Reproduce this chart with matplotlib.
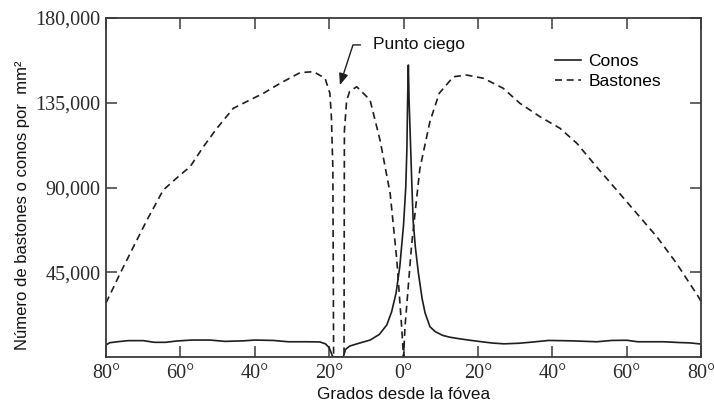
#!/usr/bin/env python3
"""Densidad de conos y bastones en la retina según la distancia a la fóvea."""

import matplotlib as mpl

mpl.use("Agg")
import matplotlib.pyplot as plt

INK = "#1e1e1e"
AXIS = "#3a3a3a"

# grados desde la fóvea (negativo = lado del punto ciego)
CONE_DEG = [-80, -79, -77, -74, -70, -67, -64, -61, -57, -52, -48, -43, -40, -35, -31,
            -26, -22.5, -21, -20, -19.4, -19, -16.2, -15.6, -14.5, -12, -9, -6.5,
            -4.5, -3.2, -2, -1, 0, 0.6, 0.9, 1.1, 1.3, 1.5, 1.8, 2.2, 2.6, 3.2, 4.0,
            5.0, 5.8, 7.1, 8.5, 10.5, 12.5, 15, 17.5, 21, 24, 27, 31, 35, 39, 45,
            52, 56, 60, 63, 70, 74, 77, 80]
CONE_DENSITY = [6400, 7600, 8100, 8700, 8700, 7800, 7800, 8500, 9000, 9000, 8300, 8600,
                9000, 8800, 8100, 8100, 8000, 7000, 5000, 2000, 0, 0, 4000, 5800, 7300,
                9000, 12000, 17000, 24000, 34000, 48000, 70000, 90000, 110000, 136000,
                155000, 136000, 118000, 94000, 72000, 58000, 44600, 31000, 23400, 16100,
                13500, 11500, 10500, 9700, 9000, 8100, 7400, 7000, 7300, 8000, 8800,
                8600, 8100, 8800, 8900, 8100, 8100, 7700, 7500, 6900]

ROD_DEG = [-80, -76.2, -72.6, -69, -64.6, -60.1, -57.4, -53.8, -50.2, -45.8, -42.2,
           -37.7, -33.2, -27.8, -24.2, -21.1, -19.8, -19.4, -19.0, -18.8, -16.0, -15.9,
           -15.3, -14.5, -12.6, -9.0, -6.3, -3.6, -1.8, -0.5, 0, 0.4, 2.2, 4.4, 7.1,
           9.6, 13.4, 17.0, 21.5, 26.8, 31.3, 36.7, 42.1, 46.6, 51.9, 57.3, 62.7, 68.1,
           73.4, 79.3, 80]
ROD_DENSITY = [28700, 44400, 58600, 72700, 88700, 96600, 101000, 111700, 121400, 132000,
               135600, 140000, 145300, 151000, 151500, 148000, 140000, 127600, 100000, 0,
               0, 120000, 136000, 141000, 143500, 136500, 115000, 87000, 51500, 16000, 0,
               16000, 60000, 100000, 125000, 140000, 148800, 149700, 148000, 142700,
               134700, 127600, 121400, 113500, 101000, 88700, 76300, 63900, 49800, 32000,
               29500]

X_TICKS = [-80, -60, -40, -20, 0, 20, 40, 60, 80]
X_LABELS = ["80°", "60°", "40°", "20°", "0°", "20°", "40°", "60°", "80°"]
Y_TICKS = [45000, 90000, 135000, 180000]
Y_LABELS = ["45,000", "90,000", "135,000", "180,000"]

BLIND_SPOT = (-17.1, 144400)
BLIND_LABEL = (-8.2, 165700)


def main() -> None:
    fig = plt.figure(figsize=(7.14, 4.09), dpi=100, facecolor="white")
    ax = fig.add_axes([0.1485, 0.1271, 0.8333, 0.8289])

    ax.plot(CONE_DEG, CONE_DENSITY, color=INK, linewidth=1.2, label="Conos")
    ax.plot(ROD_DEG, ROD_DENSITY, color=INK, linewidth=1.2, dashes=(4.2, 2.8),
            label="Bastones")

    ax.set_xlim(-80, 80)
    ax.set_ylim(0, 180000)
    ax.set_xticks(X_TICKS, X_LABELS)
    ax.set_yticks(Y_TICKS, Y_LABELS)
    ax.tick_params(direction="in", length=8, width=1.1, color=AXIS,
                   top=True, right=True, labelsize=14.5, labelcolor="#2a2a2a")
    ax.tick_params(axis="x", pad=5)
    ax.tick_params(axis="y", pad=4)
    for label in ax.get_xticklabels() + ax.get_yticklabels():
        label.set_fontfamily("Liberation Serif")
    for spine in ax.spines.values():
        spine.set_color(AXIS)
        spine.set_linewidth(1.3)

    ax.set_xlabel("Grados desde la fóvea", fontsize=12.3, family="Liberation Sans",
                  color="#111111", labelpad=3)
    ax.set_ylabel("Número de bastones o conos por  mm²", fontsize=12,
                  family="Liberation Sans", color="#111111")
    ax.yaxis.set_label_coords(-0.128, 0.448)

    ax.annotate(
        "Punto ciego",
        xy=BLIND_SPOT,
        xytext=BLIND_LABEL,
        fontsize=12.5,
        family="Liberation Sans",
        ha="left",
        va="center",
        color="#111111",
        arrowprops=dict(
            arrowstyle="-|>,head_length=0.55,head_width=0.22",
            connectionstyle="angle,angleA=0,angleB=72,rad=0",
            relpos=(0.0, 0.5),
            shrinkA=7,
            shrinkB=0,
            color=INK,
            linewidth=1.0,
        ),
    )

    ax.legend(
        loc="upper left",
        bbox_to_anchor=(0.755, 0.893),
        frameon=False,
        borderpad=0,
        borderaxespad=0,
        handlelength=1.5,
        handletextpad=0.4,
        labelspacing=0.25,
        prop={"family": "Liberation Sans", "size": 12.5},
    )

    fig.savefig("out.png", dpi=100, facecolor="white")
    plt.close(fig)


if __name__ == "__main__":
    main()
